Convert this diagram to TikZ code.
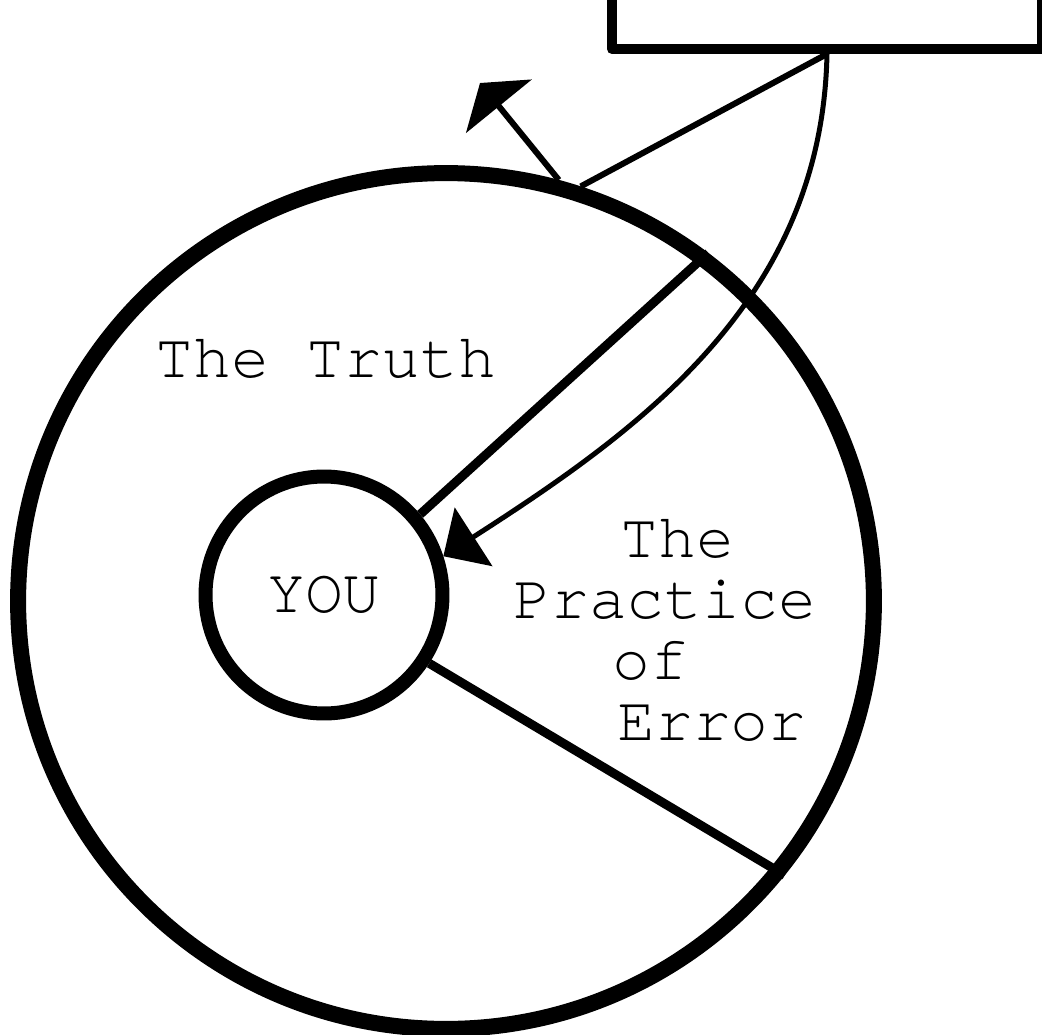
\documentclass[tikz,border=0pt]{standalone}
\usepackage{fontspec}
\usepackage{tikz}
\usetikzlibrary{arrows.meta}
\newfontfamily\cursorfont{TeX Gyre Cursor}
\newcommand{\typew}{\cursorfont\fontsize{35.9}{34.7}\selectfont}
\tikzset{
  world/.style={circle, draw, line width=0.32cm, minimum size=17.12cm, inner sep=0pt},
  self/.style={circle, draw, line width=0.28cm, minimum size=4.74cm, inner sep=0pt, font=\typew},
  signline/.style={line width=0.2cm, line join=round},
  spoke/.style={line width=0.18cm},
  cord/.style={line width=0.12cm},
  arr/.style={-{Triangle[length=0.6cm, width=1.68cm]}, line width=0.12cm},
  bendarr/.style={-{Triangle[length=0.72cm, width=1.38cm]}, line width=0.1cm},
  lbl/.style={font=\typew, inner sep=0pt},
}

\begin{document}
\begin{tikzpicture}[x=0.02cm, y=-0.02cm]
\useasboundingbox (0,0) rectangle (1042,1035);
\node[world] (truth) at (446,601) {};
\node[self] (you) at (324,595) {YOU};
% the sign, cut off by the top edge
\draw[signline] (612,-40) |- (1042,49) -- (1042,-40);
\coordinate (hook) at (827,54);
\coordinate (up) at (480,83);
% labels
\node[lbl, anchor=base west] (truthlbl) at (155,377) {The Truth};
\node[lbl, anchor=north west, align=left] (errlbl) at (513,519) {\hspace*{2.14cm}The\\Practice\\\hspace*{1.98cm}of\\\hspace*{2.08cm}Error};
% connectors
\draw[cord] (hook) -- (truth.72);
\draw[arr] (truth.75) -- (up);
\draw[bendarr] (hook) .. controls (822,300) and (640,430) .. (you.18);
\draw[spoke] (you.40) -- (truth.53);
\draw[spoke] (you.-33) -- (truth.-39);
\end{tikzpicture}
\end{document}
